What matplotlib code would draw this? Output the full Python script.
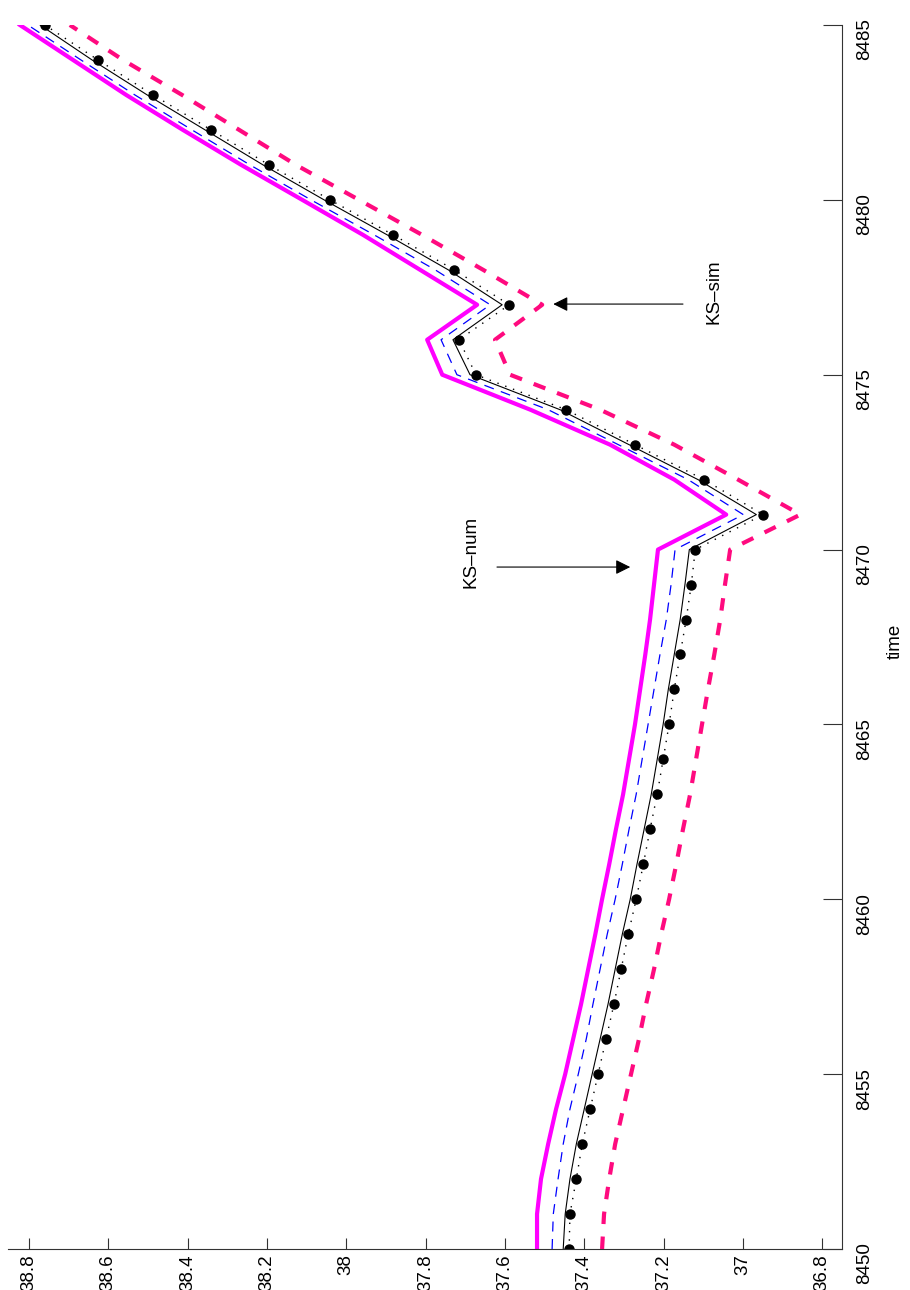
import matplotlib as mpl
import matplotlib.pyplot as plt
import numpy as np

mpl.rcParams["font.family"] = ["Liberation Sans Narrow", "Liberation Sans", "DejaVu Sans"]

# time steps (plotted on the vertical axis, figure is rotated)
time = np.arange(8450, 8486)

# thick magenta solid
ks_a = [37.519, 37.519, 37.509, 37.491, 37.471, 37.448, 37.428, 37.408, 37.390, 37.372,
        37.355, 37.337, 37.320, 37.302, 37.287, 37.272, 37.259, 37.246, 37.234, 37.224,
        37.214, 37.042, 37.173, 37.335, 37.536, 37.758, 37.796, 37.670, 37.814, 37.958,
        38.111, 38.265, 38.412, 38.555, 38.689, 38.823]
# thin blue dashed
ks_b = [37.481, 37.478, 37.466, 37.453, 37.436, 37.415, 37.395, 37.378, 37.360, 37.342,
        37.322, 37.304, 37.287, 37.269, 37.254, 37.239, 37.224, 37.209, 37.193, 37.181,
        37.171, 36.999, 37.138, 37.314, 37.491, 37.721, 37.761, 37.637, 37.776, 37.930,
        38.089, 38.243, 38.389, 38.533, 38.669, 38.803]
# thin black solid
ks_c = [37.453, 37.448, 37.436, 37.420, 37.400, 37.380, 37.360, 37.340, 37.322, 37.304,
        37.284, 37.267, 37.249, 37.231, 37.216, 37.201, 37.188, 37.173, 37.158, 37.146,
        37.135, 36.966, 37.113, 37.287, 37.461, 37.688, 37.731, 37.607, 37.743, 37.897,
        38.056, 38.210, 38.356, 38.502, 38.641, 38.772]
# black dotted with dots
ks_d = [37.438, 37.436, 37.420, 37.405, 37.385, 37.365, 37.345, 37.325, 37.307, 37.289,
        37.269, 37.251, 37.234, 37.216, 37.201, 37.186, 37.173, 37.158, 37.143, 37.130,
        37.120, 36.949, 37.098, 37.272, 37.446, 37.673, 37.716, 37.589, 37.728, 37.882,
        38.041, 38.195, 38.341, 38.487, 38.626, 38.760]
# thick pink dashed
ks_e = [37.355, 37.350, 37.337, 37.322, 37.302, 37.282, 37.262, 37.244, 37.224, 37.206,
        37.186, 37.168, 37.151, 37.133, 37.118, 37.103, 37.088, 37.072, 37.057, 37.045,
        37.032, 36.855, 37.012, 37.173, 37.360, 37.587, 37.625, 37.506, 37.655, 37.809,
        37.968, 38.127, 38.270, 38.414, 38.563, 38.697]

val_ticks = [38.8, 38.6, 38.4, 38.2, 38, 37.8, 37.6, 37.4, 37.2, 37, 36.8]
val_labels = ["38.8", "38.6", "38.4", "38.2", "38", "37.8", "37.6", "37.4", "37.2", "37", "36.8"]
time_ticks = [8450, 8455, 8460, 8465, 8470, 8475, 8480, 8485]

FS = 13.5

fig = plt.figure(figsize=(9.1, 12.9), dpi=100)
ax = fig.add_axes([8 / 910, 1 - 1249 / 1290, (842 - 8) / 910, (1249 - 25) / 1290])

ax.plot(ks_a, time, "-", color="#ff00ff", linewidth=3.0)
ax.plot(ks_b, time, color="#0000ff", linewidth=0.9, linestyle=(0, (8, 6)))
ax.plot(ks_c, time, "-", color="black", linewidth=0.8)
ax.plot(ks_d, time, color="black", linewidth=1.0, linestyle=(0, (1, 5)),
        marker="o", markersize=6.5, markerfacecolor="black", markeredgecolor="black")
ax.plot(ks_e, time, color="#ff0a7f", linewidth=3.0, linestyle=(0, (3, 3)))

ax.set_xlim(38.853, 36.75)
ax.set_ylim(8450, 8485)

ax.set_xticks(val_ticks)
ax.set_xticklabels(val_labels)
ax.set_yticks(time_ticks)
ax.yaxis.tick_right()

for side in ["top", "left"]:
    ax.spines[side].set_visible(False)
for side in ["bottom", "right"]:
    ax.spines[side].set_color("#333333")
    ax.spines[side].set_linewidth(0.8)

ax.tick_params(axis="x", direction="in", length=8, width=0.8, color="#333333",
               labelsize=FS, labelrotation=90, pad=4)
ax.tick_params(axis="y", direction="in", length=13.5, width=0.8, color="#333333",
               labelsize=FS, labelrotation=90, pad=10, left=False, right=True)

fig.text(895 / 910, 1 - 641 / 1290, "time", rotation=90, fontsize=FS,
         ha="center", va="center")

# annotations
ax.annotate("", xy=(37.478, 8477.02), xytext=(37.151, 8477.02),
            arrowprops=dict(arrowstyle="-|>", color="black", lw=0.8,
                            mutation_scale=22, shrinkA=0, shrinkB=0))
ax.text(37.072, 8477.37, "KS–sim", rotation=90, fontsize=FS, ha="center", va="center")

ax.annotate("", xy=(37.284, 8469.50), xytext=(37.620, 8469.50),
            arrowprops=dict(arrowstyle="-|>", color="black", lw=0.8,
                            mutation_scale=22, shrinkA=0, shrinkB=0))
ax.text(37.685, 8469.93, "KS–num", rotation=90, fontsize=FS, ha="center", va="center")

fig.savefig("out.png", dpi=100)
